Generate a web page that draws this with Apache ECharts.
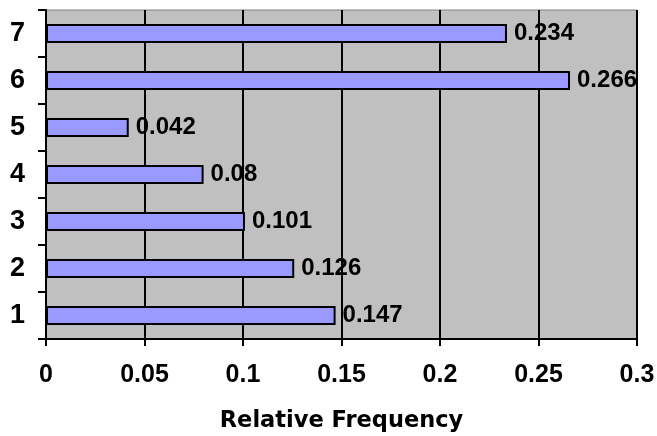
<!DOCTYPE html>
<html><head><meta charset="utf-8">
<script src="https://cdn.jsdelivr.net/npm/echarts@6/dist/echarts.min.js"></script>
<style>html,body{margin:0;padding:0;background:#fff}#c{width:657px;height:436px}</style>
</head><body><div id="c"></div>
<script>
const categories = ['1','2','3','4','5','6','7'];
const values = [0.147, 0.126, 0.101, 0.08, 0.042, 0.266, 0.234];
const xTicks = [0, 0.05, 0.1, 0.15, 0.2, 0.25, 0.3];
const xTitle = 'Relative Frequency';

const chart = echarts.init(document.getElementById('c'));
const font = '"Liberation Sans", Arial, sans-serif';
chart.setOption({
  animation: false,
  grid: {left: 46, right: 20, top: 10, bottom: 97, containLabel: false, outerBoundsMode: 'none', show: true, backgroundColor: '#C0C0C0', borderColor: '#808080', borderWidth: 1},
  xAxis: {
    type: 'value', min: 0, max: 0.3, interval: 0.05,
    name: xTitle, nameLocation: 'middle', nameGap: 71,
    nameTextStyle: {fontFamily: '"DejaVu Sans", sans-serif', fontWeight: 'bold', fontSize: 22.5, color: '#000'},
    axisLine: {show: true, lineStyle: {color: '#000', width: 2}},
    axisTick: {show: true, length: 7, lineStyle: {color: '#000', width: 2}},
    axisLabel: {fontFamily: font, fontWeight: 'bold', fontSize: 25, color: '#000', margin: 24,
      formatter: v => { const s = xTicks.find(t => Math.abs(t - v) < 1e-9); return s === undefined ? '' : String(s); }},
    splitLine: {show: true, lineStyle: {color: '#000', width: 2}}
  },
  yAxis: {
    type: 'category', data: categories, boundaryGap: true,
    axisLine: {show: true, lineStyle: {color: '#000', width: 2}},
    axisTick: {show: true, length: 8, lineStyle: {color: '#000', width: 2}},
    axisLabel: {fontFamily: font, fontWeight: 'bold', fontSize: 27, color: '#000', margin: 21},
    splitLine: {show: false}
  },
  series: [{
    type: 'bar', data: values, barWidth: 19,
    itemStyle: {color: '#9999FF', borderColor: '#000', borderWidth: 2},
    label: {show: true, position: 'right', distance: 7, fontFamily: font, fontWeight: 'bold', fontSize: 24, color: '#000'}
  }]
});
</script></body></html>
